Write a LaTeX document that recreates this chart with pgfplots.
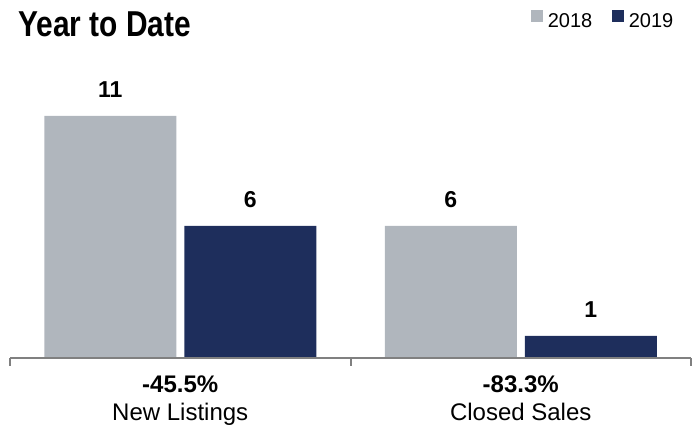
\documentclass[border=0pt]{standalone}
\usepackage{fontspec}
\setmainfont{Liberation Sans}
\usepackage{pgfplots}
\pgfplotsset{compat=1.18}
\definecolor{bargray}{RGB}{176,182,189}
\definecolor{barnavy}{RGB}{30,46,92}
\definecolor{axgray}{RGB}{128,128,128}
\begin{document}
\begin{tikzpicture}
\useasboundingbox (0pt,0pt) rectangle (697pt,425pt);
\node[anchor=base west, inner sep=0pt] at (18pt,388.3pt) {\scalebox{0.83}[1]{\fontsize{36}{36}\selectfont\bfseries Year to Date}};
\begin{axis}[
  at={(10pt,67pt)}, anchor=south west,
  scale only axis, width=681pt, height=264pt,
  xmin=-0.5, xmax=1.5, ymin=0, ymax=12,
  clip=false, axis on top=true,
  axis y line=none, axis x line=bottom,
  x axis line style={-, draw=axgray, line width=2pt},
  xtick={-0.5,0.5,1.5}, xticklabels={},
  tick align=outside, major tick length=8pt,
  x tick style={draw=axgray, line width=2pt},
  /pgf/number format/assume math mode=true,
  ybar, bar width=132pt,
  nodes near coords,
  every node near coord/.append style={inner sep=0pt, yshift=18pt, font=\fontsize{23}{23}\selectfont\bfseries, text=black},
  legend columns=-1,
  legend style={draw=none, fill=none, inner sep=0pt, outer sep=0pt,
    anchor=north east, at={(axis description cs:0.977,1.318)},
    font=\fontsize{20}{20}\selectfont,
    /tikz/every odd column/.append style={column sep=3pt},
    /tikz/every even column/.append style={column sep=18pt}},
  legend image code/.code={\fill[#1] (0pt,0pt) rectangle (11.5pt,11.5pt);},
]
\addplot[fill=bargray, draw=none, bar shift=-70pt] coordinates {(0,11) (1,6)};
\addplot[fill=barnavy, draw=none, bar shift=70pt] coordinates {(0,6) (1,1)};
\legend{2018,2019}
\node[anchor=base, inner sep=0pt, font=\fontsize{24}{24}\selectfont\bfseries] at (axis cs:0,0) [yshift=-34.7pt] {-45.5\%};
\node[anchor=base, inner sep=0pt, font=\fontsize{24}{24}\selectfont] at (axis cs:0,0) [yshift=-62.7pt] {New Listings};
\node[anchor=base, inner sep=0pt, font=\fontsize{24}{24}\selectfont\bfseries] at (axis cs:1,0) [yshift=-34.7pt] {-83.3\%};
\node[anchor=base, inner sep=0pt, font=\fontsize{24}{24}\selectfont] at (axis cs:1,0) [yshift=-62.7pt] {Closed Sales};
\end{axis}
\end{tikzpicture}
\end{document}
